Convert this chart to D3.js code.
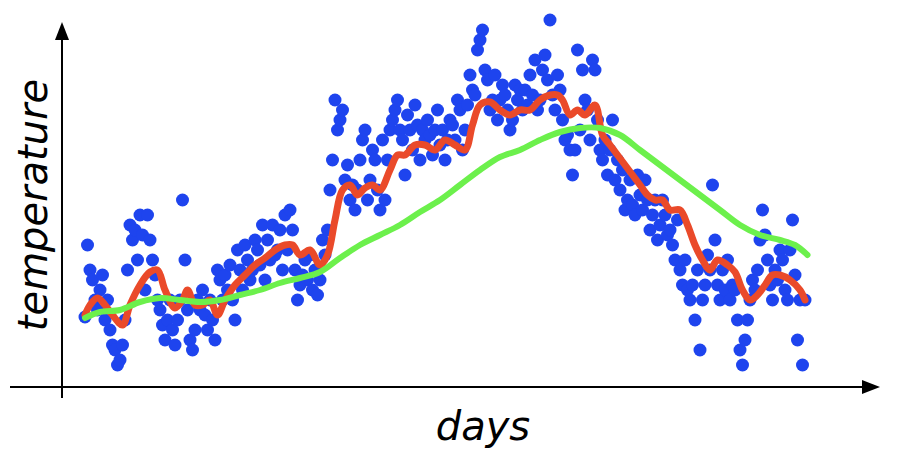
<!DOCTYPE html>
<html><head><meta charset="utf-8">
<script src="https://cdn.jsdelivr.net/npm/d3@7"></script>
<style>body{margin:0;background:#fff}</style>
</head><body>
<script>
// daily readings, index = day
const temps = [83,155,130,120,100,90,110,125,80,100,70,55,50,35,40,55,80,130,175,
  160,170,140,185,165,110,185,160,140,125,100,90,75,60,80,100,70,55,80,100,200,140,90,60,50,70,100,90,
  110,85,70,100,80,60,130,120,100,125,110,135,100,80,150,130,110,155,140,120,130,160,150,135,
  175,120,160,140,175,145,150,170,130,185,150,190,170,130,100,115,125,140,120,145,110,130,105,120,160,145,170,210,
  240,300,270,280,290,220,235,200,215,190,210,240,260,270,200,220,250,240,210,190,260,200,240,270,280,290,300,270,
  260,225,285,270,250,295,275,240,270,260,280,265,245,270,290,255,270,240,260,280,275,260,300,290,250,270,295,325,
  310,305,350,360,370,330,320,290,300,325,280,300,315,305,290,270,280,315,300,310,290,310,295,325,305,340,290,300,
  330,345,320,380,305,290,325,310,280,260,265,250,225,250,350,270,330,300,290,260,340,330,280,250,
  240,260,225,250,280,220,240,210,230,190,200,220,195,185,225,205,190,220,200,170,185,200,160,175,
  200,185,165,170,155,140,180,130,115,140,110,100,115,80,130,50,100,115,145,130,215,160,115,100,
  130,110,140,100,115,110,80,50,35,60,80,100,120,110,130,160,190,165,140,115,100,130,120,150,140,110,100,150,180,125,60,100,35,100]
const shortDays = [0,2,5,8,11,15,18,22,26,29,32,36,39,41,44,47,50,53,56,60,64,68,72,76,80,83,86,90,94,97,100,103,106,109,112,115,118,122,125,128,132,136,140,144,148,152,155,158,162,166,170,174,178,182,186,189,191,194,197,200,204,207,210,213,216,219,222,225,228,231,234,238,241,244,247,250,253,257,260,263,266,269,272,275,278,282,286,288]
const shortAvg = [85,95,102,95,85,75,95,115,128,130,110,92,100,110,95,95,100,85,100,115,125,135,142,150,155,155,145,150,135,145,180,210,215,205,212,215,210,230,245,245,255,255,250,260,255,250,275,295,298,290,285,290,290,300,305,305,300,285,290,285,295,265,255,245,235,225,215,205,200,200,190,190,175,155,140,130,140,135,128,110,100,105,115,125,125,120,110,100]
const longDays = [0,6,14,22,30,38,46,54,62,70,78,86,94,102,110,118,126,134,142,150,158,166,174,182,190,198,206,214,222,230,238,246,254,262,270,278,284,289]
const longAvg = [82,88,90,98,102,100,98,100,105,110,117,122,128,142,155,165,175,188,200,215,230,243,250,260,268,272,272,265,250,235,220,205,190,175,165,160,155,145]

const width = 910, height = 466
const svg = d3.select("body").append("svg").attr("width", width).attr("height", height)
const font = "'DejaVu Sans', sans-serif"

const x = d3.scaleLinear().domain([0, 288]).range([85, 805])
const y = d3.scaleLinear().domain([0, 400]).range([400, 0])

// axes with arrowheads
svg.append("line").attr("x1", 62).attr("y1", 398).attr("x2", 62).attr("y2", 38)
  .attr("stroke", "#000").attr("stroke-width", 2)
svg.append("path").attr("d", "M55,40 L62,22 L69,40 Z").attr("fill", "#000")
svg.append("line").attr("x1", 10).attr("y1", 387).attr("x2", 865).attr("y2", 387)
  .attr("stroke", "#000").attr("stroke-width", 2)
svg.append("path").attr("d", "M862,380 L880,387 L862,394 Z").attr("fill", "#000")

svg.selectAll("circle").data(temps).enter().append("circle")
  .attr("cx", (d, i) => x(i)).attr("cy", d => y(d)).attr("r", 6.5)
  .attr("fill", "#1e44ee")

const line = d3.line().x(d => x(d[0])).y(d => y(d[1])).curve(d3.curveCatmullRom)
svg.append("path").datum(shortDays.map((d, i) => [d, shortAvg[i]]))
  .attr("d", line).attr("fill", "none").attr("stroke", "#ea4a2a").attr("stroke-width", 7)
  .attr("stroke-linejoin", "round").attr("stroke-linecap", "round")
svg.append("path").datum(longDays.map((d, i) => [d, longAvg[i]]))
  .attr("d", line).attr("fill", "none").attr("stroke", "#6cf04c").attr("stroke-width", 6)
  .attr("stroke-linecap", "round")

svg.append("text").attr("x", 483).attr("y", 440).attr("text-anchor", "middle")
  .attr("font-family", font).attr("font-style", "italic").attr("font-size", 40).text("days")
svg.append("text").attr("transform", "translate(47,205) rotate(-90)").attr("text-anchor", "middle")
  .attr("font-family", font).attr("font-style", "italic").attr("font-size", 40).text("temperature")
</script>
</body></html>
